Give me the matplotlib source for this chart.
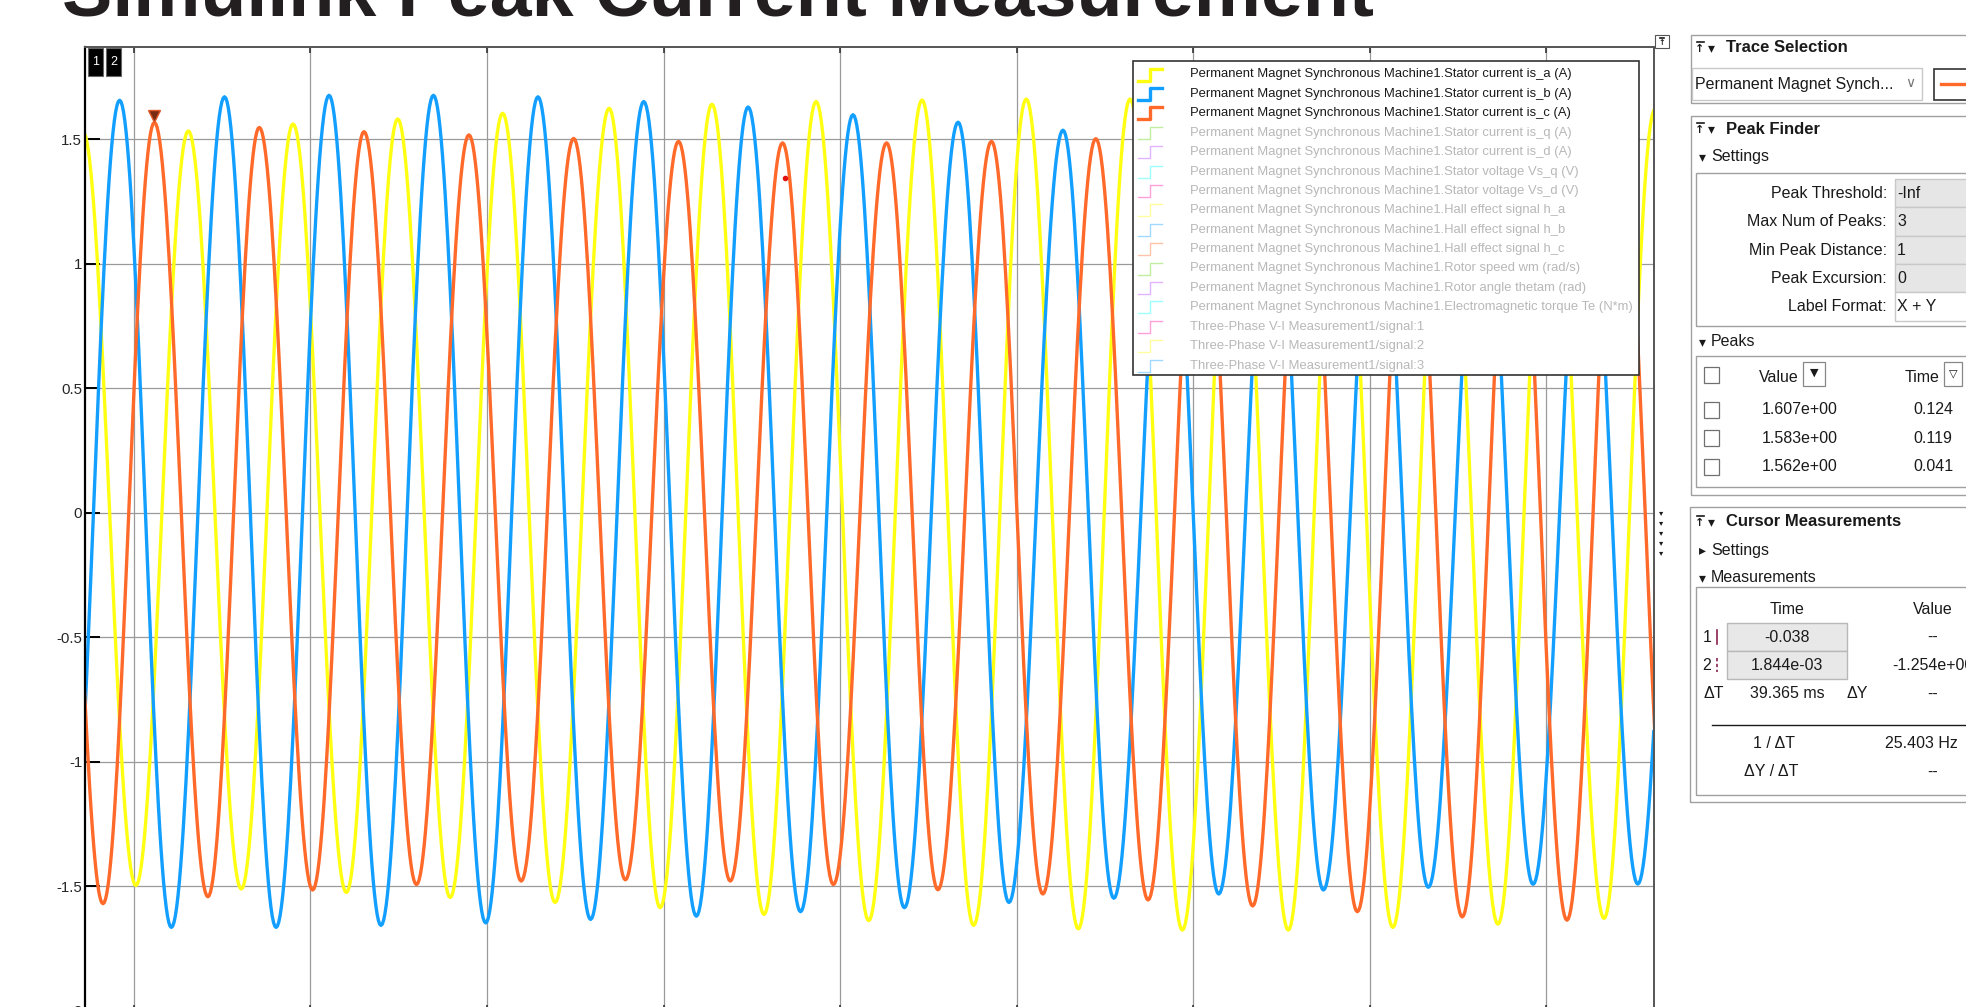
import matplotlib
matplotlib.use('Agg')
import matplotlib.pyplot as plt
import numpy as np
from matplotlib.patches import Rectangle
from matplotlib.lines import Line2D
from matplotlib import transforms, font_manager

# scope traces: successive extrema, time in grid divisions, current in A
ia_t = [-0.583, -0.287, 0.012, 0.309, 0.609, 0.902, 1.204, 1.495, 1.792, 2.089, 2.386,
        2.692, 2.981, 3.274, 3.569, 3.864, 4.162, 4.464, 4.756, 5.054, 5.349, 5.642,
        5.938, 6.236, 6.538, 6.830, 7.130, 7.425, 7.725, 8.020, 8.326, 8.614, 8.914]
ia_v = [-1.49, 1.53, -1.497, 1.534, -1.511, 1.562, -1.525, 1.582, -1.545, 1.605, -1.565,
        1.625, -1.586, 1.641, -1.613, 1.652, -1.638, 1.658, -1.657, 1.662, -1.671, 1.662,
        -1.676, 1.665, -1.676, 1.66, -1.665, 1.65, -1.652, 1.64, -1.629, 1.62, -1.60]

ib_t = [-0.377, -0.080, 0.213, 0.514, 0.806, 1.106, 1.400, 1.697, 1.993, 2.289, 2.587,
        2.888, 3.186, 3.479, 3.776, 4.073, 4.364, 4.668, 4.956, 5.262, 5.550, 5.855,
        6.144, 6.446, 6.737, 7.040, 7.331, 7.635, 7.924, 8.224, 8.517, 8.818]
ib_v = [-1.665, 1.657, -1.665, 1.671, -1.665, 1.677, -1.657, 1.677, -1.647, 1.671, -1.633,
        1.652, -1.620, 1.630, -1.602, 1.599, -1.586, 1.569, -1.565, 1.537, -1.548, 1.52,
        -1.531, 1.505, -1.515, 1.495, -1.504, 1.49, -1.492, 1.485, -1.491, 1.48]

ic_t = [-0.474, -0.174, 0.117, 0.420, 0.711, 1.013, 1.304, 1.601, 1.898, 2.194, 2.491,
        2.784, 3.085, 3.378, 3.674, 3.962, 4.263, 4.554, 4.857, 5.148, 5.448, 5.744,
        6.041, 6.336, 6.632, 6.929, 7.227, 7.523, 7.819, 8.116, 8.410, 8.710]
ic_v = [1.575, -1.570, 1.568, -1.542, 1.548, -1.515, 1.531, -1.493, 1.518, -1.479, 1.504,
        -1.474, 1.492, -1.479, 1.486, -1.493, 1.486, -1.514, 1.492, -1.531, 1.503, -1.555,
        1.52, -1.579, 1.54, -1.602, 1.565, -1.623, 1.585, -1.636, 1.607, -1.645]

marked_peak = 2          # index in ic_t / ic_v carrying the peak-finder triangle
red_dot = (3.688, 1.345)

yticks = [-2, -1.5, -1, -0.5, 0, 0.5, 1, 1.5]
ytick_labels = ['-2', '-1.5', '-1', '-0.5', '0', '0.5', '1', '1.5']

legend_labels = [
    'Permanent Magnet Synchronous Machine1.Stator current is_a (A)',
    'Permanent Magnet Synchronous Machine1.Stator current is_b (A)',
    'Permanent Magnet Synchronous Machine1.Stator current is_c (A)',
    'Permanent Magnet Synchronous Machine1.Stator current is_q (A)',
    'Permanent Magnet Synchronous Machine1.Stator current is_d (A)',
    'Permanent Magnet Synchronous Machine1.Stator voltage Vs_q (V)',
    'Permanent Magnet Synchronous Machine1.Stator voltage Vs_d (V)',
    'Permanent Magnet Synchronous Machine1.Hall effect signal h_a',
    'Permanent Magnet Synchronous Machine1.Hall effect signal h_b',
    'Permanent Magnet Synchronous Machine1.Hall effect signal h_c',
    'Permanent Magnet Synchronous Machine1.Rotor speed wm (rad/s)',
    'Permanent Magnet Synchronous Machine1.Rotor angle thetam (rad)',
    'Permanent Magnet Synchronous Machine1.Electromagnetic torque Te (N*m)',
    'Three-Phase V-I Measurement1/signal:1',
    'Three-Phase V-I Measurement1/signal:2',
    'Three-Phase V-I Measurement1/signal:3',
]
legend_colors = ['#FFFF11', '#129FFF', '#FF6929', '#63D412', '#B845FF', '#10FFFF', '#FF12A6',
                 '#FFFF11', '#129FFF', '#FF6929', '#63D412', '#B845FF', '#10FFFF', '#FF12A6',
                 '#FFFF11', '#129FFF']
n_shown = 3

peak_settings = [('Peak Threshold:', '-Inf'), ('Max Num of Peaks:', '3'),
                 ('Min Peak Distance:', '1'), ('Peak Excursion:', '0'),
                 ('Label Format:', 'X + Y')]
peak_values = [1.607, 1.583, 1.562]
peak_times = [0.124, 0.119, 0.041]

cursor_times = ['-0.038', '1.844e-03']
cursor_values = ['--', '-1.254e+00']
delta_t = '39.365 ms'
delta_y = '--'
inv_delta_t = '25.403 Hz'
slope = '--'

TITLE = 'Simulink Peak Current Measurement'

W, H = 1966, 1007
UI = ['Liberation Sans', 'DejaVu Sans']
INK = '#1a1a1a'
EDGE = '#a0a0a0'


def trace(t_ext, v_ext, n=40):
    ts, vs = [], []
    for i in range(len(t_ext) - 1):
        s = np.linspace(0, 1, n, endpoint=False)
        t0, t1, v0, v1 = t_ext[i], t_ext[i + 1], v_ext[i], v_ext[i + 1]
        ts.append(t0 + (t1 - t0) * s)
        vs.append((v0 + v1) / 2 + (v0 - v1) / 2 * np.cos(np.pi * s))
    ts.append([t_ext[-1]])
    vs.append([v_ext[-1]])
    return np.concatenate(ts), np.concatenate(vs)


def fx(x):
    return x / W


def fy(y):
    return 1 - y / H


def txt(x, y, s, size=11.5, ha='left', weight='normal', color=INK, family=UI, z=6):
    return fig.text(fx(x), fy(y), s, ha=ha, va='center', fontsize=size, fontweight=weight,
                    color=color, family=family, zorder=z)


def rect(x0, y0, x1, y1, fc='none', ec=EDGE, lw=1.0, z=4):
    fig.add_artist(Rectangle((fx(x0), fy(y1)), fx(x1) - fx(x0), fy(y0) - fy(y1),
                             transform=fig.transFigure, facecolor=fc, edgecolor=ec,
                             linewidth=lw, zorder=z))


def line(xs, ys, color=INK, lw=1.0, z=5, **kw):
    fig.add_artist(Line2D([fx(x) for x in xs], [fy(y) for y in ys], transform=fig.transFigure,
                          color=color, linewidth=lw, zorder=z, **kw))


def undock_icon(x, y, size=1.0):
    # small "bar over arrow" glyph used by the scope panels
    line([x - 3.5 * size, x + 3.5 * size], [y - 6 * size, y - 6 * size], lw=1.2)
    txt(x, y + 1 * size, '↑', size=8 * size, ha='center', weight='bold', family=['DejaVu Sans'])


def panel_title(y, s):
    undock_icon(1700, y)
    txt(1711, y, '▾', size=10, ha='center', family=['DejaVu Sans'])
    txt(1726, y, s, size=12, weight='bold')


def section(y, s, open_=True):
    txt(1702, y, '▾' if open_ else '▸', size=10, ha='center', family=['DejaVu Sans'])
    txt(1711, y, s)


fig = plt.figure(figsize=(W / 100, H / 100), dpi=100)
fig.patch.set_facecolor('white')

# ---- title (cropped at the top of the screenshot)
title = fig.text(fx(62), fy(15), TITLE, fontsize=50, fontweight='bold', va='baseline',
                 family='Liberation Sans', color='#231f20')
fig.canvas.draw()
title.set_fontsize(50 * 1311 / title.get_window_extent().width)

# ---- scope axes
ax = fig.add_axes([fx(85), fy(1010.8), fx(1653.5) - fx(85), fy(47) - fy(1010.8)])
ax.set_xlim(-0.276, 8.606)
ax.set_ylim(-2, 1.871)
for t_ext, v_ext, col in [(ia_t, ia_v, '#FFFF11'), (ib_t, ib_v, '#129FFF'), (ic_t, ic_v, '#FF6929')]:
    t, v = trace(t_ext, v_ext)
    ax.plot(t, v, color=col, lw=2.4, solid_joinstyle='round')

up = transforms.offset_copy(ax.transData, fig=fig, y=6, units='dots')
ax.plot([ic_t[marked_peak]], [ic_v[marked_peak]], marker='v', ms=9, color='#7a2c12',
        mec='#e05a2a', mew=1, transform=up, zorder=5)
ax.plot([red_dot[0]], [red_dot[1]], marker='o', ms=3, color='#e01010', zorder=5)

ax.set_xticks(range(9))
ax.set_yticks(yticks)
ax.set_yticklabels(ytick_labels, family='Liberation Sans', fontsize=10.8, color='#262626')
ax.tick_params(axis='y', direction='in', length=11, width=1.4, color='black', pad=2)
ax.tick_params(axis='x', direction='in', length=4, width=1.2, color='#333333',
               top=True, labelbottom=False)
ax.grid(True, color='#9a9a9a', lw=0.9)
ax.set_axisbelow(True)
ax.spines['left'].set_linewidth(1.6)
ax.spines['left'].set_color('black')
for side in ['top', 'right']:
    ax.spines[side].set_linewidth(1.4)
    ax.spines[side].set_color('#555555')

# cursor tags
for i, x0 in enumerate([88, 106]):
    rect(x0, 48, x0 + 15, 76, fc='black', ec='#666666', lw=0.8, z=6)
    txt(x0 + 7.5, 62, str(i + 1), size=9, ha='center', color='white', z=7)

# ---- legend box
names = {f.name for f in font_manager.fontManager.ttflist}
narrow = 'Liberation Sans Narrow' in names
leg_font = ['Liberation Sans Narrow', 'Liberation Sans'] if narrow else UI
leg_size = 11 if narrow else 9.4
rect(1133, 61, 1639, 375, fc='white', ec='#333333', lw=1.2, z=5)
for i, (lab, col) in enumerate(zip(legend_labels, legend_colors)):
    yc = 74.5 + 19.4 * i
    shown = i < n_shown
    line([1138, 1150, 1150, 1162], [yc + 6, yc + 6, yc - 6, yc - 6], color=col,
         lw=2.4 if shown else 1.0, alpha=1 if shown else 0.4, z=6)
    txt(1190, yc, lab, size=leg_size, color=INK if shown else '#b8b8b8', family=leg_font)

# small scope controls right of the axes
rect(1655, 35, 1669, 48, fc='white', ec='#555555', lw=0.8)
undock_icon(1662, 42, size=0.7)
for k in range(5):
    txt(1661, 513 + 10 * k, '▾', size=6, ha='center', family=['DejaVu Sans'])

# ---- Trace Selection panel
rect(1691, 35, 1990, 103)
panel_title(48, 'Trace Selection')
rect(1692, 68, 1922, 100, fc='white', ec='#c8c8c8')
txt(1695, 84, 'Permanent Magnet Synch...')
txt(1910, 83, '∨', size=10, ha='center', color='#777777', family=['DejaVu Sans'])
rect(1934, 69, 1990, 100, fc='white', ec='#333333', lw=1.2)
line([1941, 1970], [84, 84], color='#FF6929', lw=2.4)

# ---- Peak Finder panel
rect(1691, 116, 1990, 495)
panel_title(129, 'Peak Finder')
section(157, 'Settings')
rect(1696, 173, 1990, 326)
for i, (lab, val) in enumerate(peak_settings):
    y0 = 179 + 28.3 * i
    rect(1895, y0, 1990, y0 + 28.3, fc='#e6e6e6' if i < 4 else 'white', ec='#c8c8c8')
    txt(1887, y0 + 14.5, lab, ha='right')
    txt(1897, y0 + 14.5, val)
section(342, 'Peaks')
rect(1696, 356, 1990, 487)


def checkbox(yc):
    rect(1704, yc - 8, 1719, yc + 8, fc='white', ec='#707070', lw=0.9, z=6)


checkbox(375)
txt(1779, 377, 'Value', ha='center')
rect(1803, 362, 1825, 386, fc='white', ec='#888888', lw=0.9)
txt(1814, 373, '▼', size=8, ha='center', family=['DejaVu Sans'])
txt(1922, 377, 'Time', ha='center')
rect(1944, 362, 1962, 386, fc='white', ec='#888888', lw=0.9)
txt(1953, 373, '▽', size=8, ha='center', family=['DejaVu Sans'])
for i, (pv, pt) in enumerate(zip(peak_values, peak_times)):
    yc = 410 + 28.3 * i
    checkbox(yc)
    txt(1800, yc, f'{pv:.3e}', ha='center')
    txt(1933, yc, f'{pt:.3f}', ha='center')

# ---- Cursor Measurements panel
rect(1690, 507, 1990, 802)
panel_title(522, 'Cursor Measurements')
section(550, 'Settings', open_=False)
section(578, 'Measurements')
rect(1696, 587, 1990, 795)
txt(1787, 609, 'Time', ha='center')
txt(1933, 609, 'Value', ha='center')
for i, (ct, cv) in enumerate(zip(cursor_times, cursor_values)):
    y0 = 623 + 28 * i
    yc = y0 + 14
    rect(1727, y0, 1847, y0 + 28, fc='#e8e8e8', ec='#b8b8b8')
    txt(1707, yc, str(i + 1), ha='center')
    line([1717, 1717], [yc - 7, yc + 7], color='#8b2252', lw=1.2,
         ls='-' if i == 0 else (0, (2, 1.5)))
    txt(1787, yc, ct, ha='center')
    if cv == '--':
        txt(1933, yc, cv, ha='center')
    else:
        txt(1892, yc, cv)
txt(1703, 694, 'ΔT')
txt(1787, 694, delta_t, ha='center')
txt(1857, 694, 'ΔY', ha='center')
txt(1933, 694, delta_y, ha='center')
line([1712, 1990], [725, 725], color=INK, lw=1.0)
txt(1774, 744, '1 / ΔT', ha='center')
txt(1921, 744, inv_delta_t, ha='center')
txt(1771, 772, 'ΔY / ΔT', ha='center')
txt(1933, 772, slope, ha='center')

fig.savefig('out.png', dpi=100, facecolor='white')
